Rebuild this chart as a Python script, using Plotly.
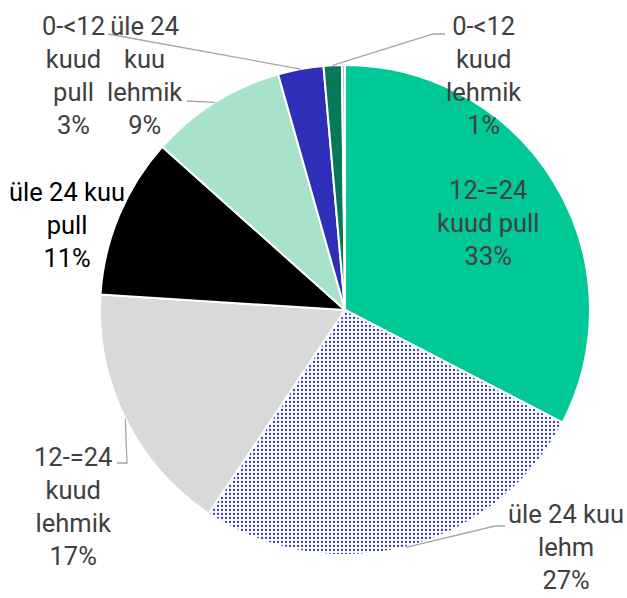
import math
import plotly.graph_objects as go

# ---- data ----
categories = ["12-=24 kuud pull", "üle 24 kuu lehm", "12-=24 kuud lehmik", "üle 24 kuu pull",
              "üle 24 kuu lehmik", "0-<12 kuud pull", "0-<12 kuud lehmik", "muu"]
values = [32.6, 26.8, 16.6, 10.6, 9.0, 3.0, 1.2, 0.2]
label_lines = [["12-=24", "kuud pull"], ["üle 24 kuu", "lehm"], ["12-=24", "kuud", "lehmik"],
               ["üle 24 kuu", "pull"], ["üle 24", "kuu", "lehmik"], ["0-&lt;12", "kuud", "pull"],
               ["0-&lt;12", "kuud", "lehmik"], None]

# ---- styles / layout ----
colors = ["#00C896", "#FFFFFF", "#D9D9D9", "#000000", "#A9E2CB", "#2E2EB8", "#07785A", "#B9B9EE"]
pat_shapes = ["", ".", "", "", "", "", "", ""]
pat_fg = ["#00C896", "#3535C0", "#D9D9D9", "#000000", "#A9E2CB", "#2E2EB8", "#07785A", "#B9B9EE"]
text_colors = ["#404040", "#404040", "#404040", "#000000", "#404040", "#404040", "#404040", None]

W, H = 627, 598
CX, CY, R = 345, 310, 245
# label block centres (px) and leader elbow points (px) after the edge start point
label_pos = [(488, 223), (566, 547), (73, 506), (67, 225), (144, 75), (73, 75), (483, 75), None]
leader_pts = [None, [(495, 526), (505, 526)], [(127, 463), (117, 463)], None,
              [(187, 101)], [(108, 34)], [(433, 34), (445, 34)], None]


def px2paper(x, y):
    return x / W, 1 - y / H


dx0, dy1 = px2paper(CX - R, CY - R)
dx1, dy0 = px2paper(CX + R, CY + R)

fig = go.Figure(go.Pie(
    labels=categories, values=values, sort=False, direction="clockwise", rotation=0,
    textinfo="none", hoverinfo="label+percent",
    marker=dict(colors=colors, line=dict(color="#FFFFFF", width=2),
                pattern=dict(shape=pat_shapes, fgcolor=pat_fg, bgcolor=colors,
                             size=4, solidity=0.25)),
    domain=dict(x=[dx0, dx1], y=[dy0, dy1]),
    showlegend=False,
))

total = sum(values)
cum = 0.0
annotations = []
shapes = []
for i, v in enumerate(values):
    mid = (cum + v / 2) / total * 2 * math.pi
    cum += v
    if label_lines[i] is None:
        continue
    pct = round(v / total * 100)
    txt = "<br>".join(label_lines[i] + [f"{pct}%"])
    lx, ly = px2paper(*label_pos[i])
    annotations.append(dict(x=lx, y=ly, xref="paper", yref="paper", text=txt, showarrow=False,
                            xanchor="center", yanchor="middle", align="center",
                            font=dict(family="Roboto", size=25.5, color=text_colors[i])))
    if leader_pts[i]:
        sx = CX + R * math.sin(mid)
        sy = CY - R * math.cos(mid)
        pts = [(sx, sy)] + leader_pts[i]
        path = "M " + " L ".join(f"{px2paper(x, y)[0]:.5f},{px2paper(x, y)[1]:.5f}" for x, y in pts)
        shapes.append(dict(type="path", path=path, xref="paper", yref="paper",
                           line=dict(color="#A6A6A6", width=1.3)))

fig.update_layout(width=W, height=H, margin=dict(l=0, r=0, t=0, b=0),
                  paper_bgcolor="#FFFFFF", plot_bgcolor="#FFFFFF",
                  annotations=annotations, shapes=shapes)
fig.write_html("out.html", config={"displayModeBar": False},
               post_script="document.body.style.margin='0';document.body.style.overflow='hidden';")
